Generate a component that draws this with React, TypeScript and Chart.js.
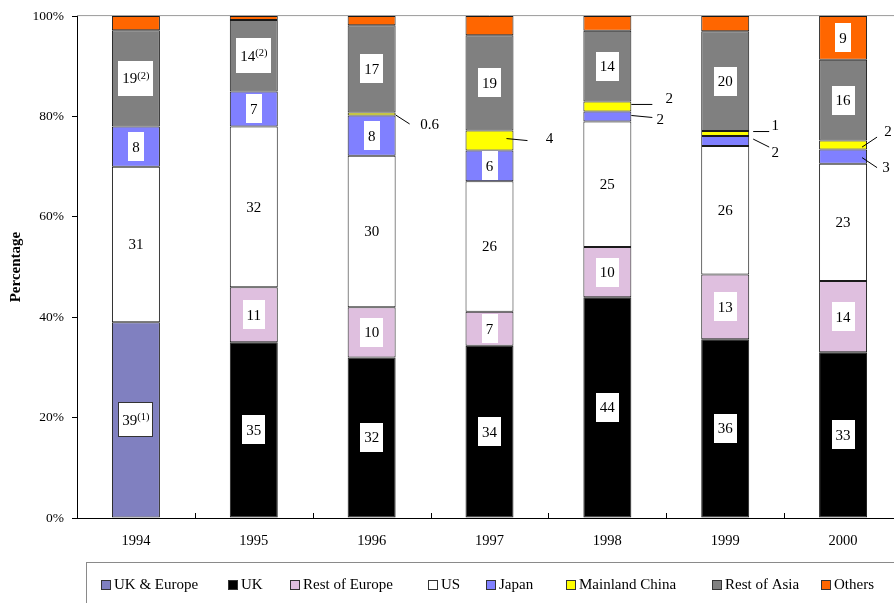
import React, { useEffect, useRef } from 'react';
import { Chart, registerables } from 'chart.js';

Chart.register(...registerables);

// ---------- data ----------
const years = ['1994', '1995', '1996', '1997', '1998', '1999', '2000'];
const ukEurope = [39, null, null, null, null, null, null];
const uk = [null, 35, 32, 34.3, 44, 35.6, 33];
const restOfEurope = [null, 11, 10, 6.8, 10, 12.9, 14.2];
const us = [31, 32, 30.2, 26, 25, 25.6, 23.4];
const japan = [8, 7, 8, 6.1, 2, 2, 2.8];
const mainlandChina = [null, null, 0.6, 4, 2, 1, 1.8];
const restOfAsia = [19.2, 14.2, 17.4, 19, 14.1, 19.9, 16.1];
const others = [2.8, 0.8, 1.8, 3.8, 2.9, 3, 8.7];

const ukEuropeNotes = ['(1)', '', '', '', '', '', ''];
const restOfAsiaNotes = ['(2)', '(2)', '', '', '', '', ''];

const yTicks = [0, 20, 40, 60, 80, 100];

// ---------- styles / layout ----------
const SERIF = "'Liberation Serif', 'Times New Roman', serif";
const LABEL_FONT = `15px ${SERIF}`;
const NOTE_FONT = `10.5px ${SERIF}`;
const LEGEND_FONT = `15px ${SERIF}`;
const SEG_BORDER = '#1a1a1a';
const LEGEND_X = [101, 228, 290, 428, 486, 566, 712, 821];

// callouts for thin segments: [datasetLabel, yearIndex, x1, y1, x2, y2, textX, textY]
// offsets relative to bar right edge and segment centre
const CALLOUTS: [string, number, number, number, number, number, number, number][] = [
  ['Mainland China', 2, 0, 1, 14, 10, 34, 11],
  ['Mainland China', 3, -7, -2, 14, 0, 36, -2],
  ['Mainland China', 4, 0, -2, 21, -2, 38, -7],
  ['Japan', 4, 0, -1, 21, 1, 29, 4],
  ['Mainland China', 5, 4, -2, 20, -2, 26, -7],
  ['Japan', 5, 4, -2, 20, 6, 26, 12],
  ['Mainland China', 6, -5, 2, 10, -8, 21, -13],
  ['Japan', 6, -5, 1, 10, 11, 19, 11],
];

const mk = (label: string, data: (number | null)[], color: string, extra: any = {}) => ({
  label,
  data,
  backgroundColor: color,
  borderColor: SEG_BORDER,
  borderWidth: 1,
  borderSkipped: false,
  categoryPercentage: 1,
  barPercentage: 0.407,
  ...extra,
});

const datasets = [
  mk('UK & Europe', ukEurope, '#8080C0', { notes: ukEuropeNotes, boxedLabels: true }),
  mk('UK', uk, '#000000'),
  mk('Rest of Europe', restOfEurope, '#DFBFDF'),
  mk('US', us, '#FFFFFF'),
  mk('Japan', japan, '#8080FF'),
  mk('Mainland China', mainlandChina, '#FFFF00'),
  mk('Rest of Asia', restOfAsia, '#808080', { notes: restOfAsiaNotes }),
  mk('Others', others, '#FF6600'),
];

const fmt = (v: number) => (v < 1 ? String(v) : String(Math.round(v)));

const decorPlugin = {
  id: 'decor',
  beforeDatasetsDraw(chart: any) {
    const { ctx, chartArea } = chart;
    ctx.save();
    ctx.strokeStyle = '#9a9a9a';
    ctx.lineWidth = 1;
    ctx.beginPath();
    ctx.moveTo(chartArea.left, chartArea.top - 0.5);
    ctx.lineTo(chartArea.right, chartArea.top - 0.5);
    ctx.moveTo(chartArea.right - 0.5, chartArea.top);
    ctx.lineTo(chartArea.right - 0.5, chartArea.bottom);
    ctx.stroke();
    ctx.restore();
  },
  afterDatasetsDraw(chart: any) {
    const { ctx, chartArea } = chart;
    const xs = chart.scales.x;
    ctx.save();
    // inward category boundary ticks
    const n = years.length;
    const cw = (xs.right - xs.left) / n;
    ctx.strokeStyle = '#000';
    ctx.lineWidth = 1;
    ctx.beginPath();
    for (let i = 1; i < n; i++) {
      const x = Math.round(xs.left + cw * i) + 0.5;
      ctx.moveTo(x, chartArea.bottom);
      ctx.lineTo(x, chartArea.bottom - 5);
    }
    ctx.stroke();

    // inside labels
    chart.data.datasets.forEach((ds: any, di: number) => {
      const meta = chart.getDatasetMeta(di);
      ds.data.forEach((v: number | null, i: number) => {
        if (v == null || v < 5) return;
        const el: any = meta.data[i];
        const cx = el.x;
        const cy = (el.y + el.base) / 2;
        const main = fmt(v);
        const note = ds.notes ? ds.notes[i] : '';
        ctx.font = LABEL_FONT;
        const mw = ctx.measureText(main).width;
        ctx.font = NOTE_FONT;
        const nw = note ? ctx.measureText(note).width : 0;
        const w = Math.round(mw + nw + 8);
        const h = note ? 35 : 29;
        const bx = Math.round(cx - w / 2);
        const by = Math.round(cy - h / 2);
        ctx.fillStyle = '#fff';
        ctx.fillRect(bx, by, w, h);
        if (ds.boxedLabels) {
          ctx.strokeStyle = '#333';
          ctx.strokeRect(bx + 0.5, by + 0.5, w - 1, h - 1);
        }
        ctx.fillStyle = '#000';
        ctx.textBaseline = 'alphabetic';
        ctx.textAlign = 'left';
        const tx = cx - (mw + nw) / 2;
        ctx.font = LABEL_FONT;
        ctx.fillText(main, tx, cy + 5);
        if (note) {
          ctx.font = NOTE_FONT;
          ctx.fillText(note, tx + mw, cy + 0.5);
        }
      });
    });

    // callouts
    CALLOUTS.forEach(([label, i, x1, y1, x2, y2, tx, ty]) => {
      const di = chart.data.datasets.findIndex((d: any) => d.label === label);
      const ds = chart.data.datasets[di];
      const el: any = chart.getDatasetMeta(di).data[i];
      const right = el.x + el.width / 2;
      const cy = (el.y + el.base) / 2;
      ctx.strokeStyle = '#000';
      ctx.lineWidth = 1;
      ctx.beginPath();
      ctx.moveTo(right + x1, cy + y1);
      ctx.lineTo(right + x2, cy + y2);
      ctx.stroke();
      ctx.fillStyle = '#000';
      ctx.font = LABEL_FONT;
      ctx.textAlign = 'center';
      ctx.textBaseline = 'middle';
      ctx.fillText(fmt(ds.data[i]), right + tx, cy + ty);
    });
    ctx.restore();
  },
  afterDraw(chart: any) {
    const { ctx } = chart;
    ctx.save();
    // legend box
    ctx.strokeStyle = '#8a8a8a';
    ctx.lineWidth = 1;
    ctx.strokeRect(86.5, 562.5, 812, 60);
    ctx.font = LEGEND_FONT;
    ctx.textBaseline = 'middle';
    ctx.textAlign = 'left';
    const cy = 585;
    chart.data.datasets.forEach((ds: any, k: number) => {
      const x = LEGEND_X[k];
      ctx.fillStyle = ds.backgroundColor;
      ctx.fillRect(x, cy - 5, 10, 10);
      ctx.strokeStyle = '#333';
      ctx.strokeRect(x + 0.5, cy - 4.5, 9, 9);
      ctx.fillStyle = '#000';
      ctx.fillText(ds.label, x + 13, cy);
    });
    ctx.restore();
  },
};

export default function App() {
  const ref = useRef<HTMLCanvasElement>(null);
  useEffect(() => {
    const chart = new Chart(ref.current as HTMLCanvasElement, {
      type: 'bar',
      data: { labels: years, datasets: datasets as any },
      options: {
        animation: false,
        responsive: false,
        devicePixelRatio: 1,
        layout: { padding: { top: 14, right: 10, bottom: 62, left: 0 } },
        plugins: {
          legend: { display: false },
          tooltip: { enabled: false },
        },
        scales: {
          x: {
            stacked: true,
            grid: { display: false, drawTicks: false },
            border: { display: true, color: '#000', width: 1 },
            ticks: {
              color: '#000',
              font: { family: SERIF, size: 14.5 },
              padding: 14,
              autoSkip: false,
              maxRotation: 0,
            },
            afterFit: (s: any) => {
              s.height = 40;
            },
          },
          y: {
            stacked: true,
            min: 0,
            max: 100,
            afterBuildTicks: (s: any) => {
              s.ticks = yTicks.map((v) => ({ value: v }));
            },
            ticks: {
              color: '#000',
              font: { family: SERIF, size: 13.5 },
              padding: 8,
              callback: (v: any) => v + '%',
            },
            grid: { drawOnChartArea: false, drawTicks: true, tickLength: 5, color: '#000' },
            border: { display: true, color: '#000', width: 1 },
            title: {
              display: true,
              text: 'Percentage',
              color: '#000',
              font: { family: SERIF, size: 15, weight: 'bold' },
              padding: { top: 7, bottom: 0 },
            },
            afterFit: (s: any) => {
              s.width = 77;
            },
          },
        },
      },
      plugins: [decorPlugin],
    });
    return () => chart.destroy();
  }, []);
  return (
    <div
      style={{
        position: 'fixed',
        left: 0,
        top: 0,
        width: 894,
        height: 603,
        overflow: 'hidden',
        background: '#fff',
      }}
    >
      <canvas ref={ref} width={912} height={620} style={{ width: 912, height: 620, display: 'block' }} />
    </div>
  );
}
